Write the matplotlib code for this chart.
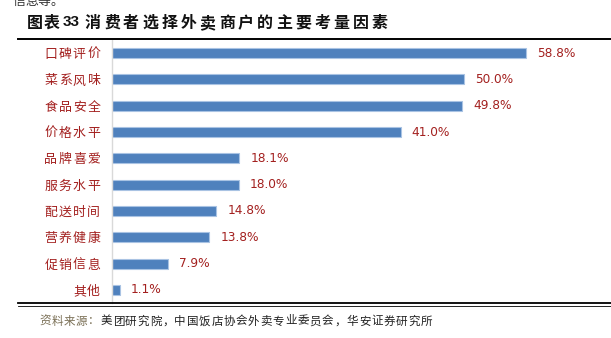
import matplotlib
matplotlib.use("Agg")
import matplotlib.pyplot as plt
from matplotlib.lines import Line2D

plt.rcParams['font.family'] = ['Noto Sans CJK SC', 'DejaVu Sans']

categories = ['口碑评价', '菜系风味', '食品安全', '价格水平', '品牌喜爱',
              '服务水平', '配送时间', '营养健康', '促销信息', '其他']
values = [58.8, 50.0, 49.8, 41.0, 18.1, 18.0, 14.8, 13.8, 7.9, 1.1]
value_labels = ['58.8%', '50.0%', '49.8%', '41.0%', '18.1%',
                '18.0%', '14.8%', '13.8%', '7.9%', '1.1%']

title_prefix = '图表'
title_number = '33'
title_text = '消费者选择外卖商户的主要考量因素'
source_lead = '资料来源：'
source_text = '美团研究院，中国饭店协会外卖专业委员会，华安证券研究所'
lead_in = '信息等。'

W, H = 611, 338
fig = plt.figure(figsize=(W / 100, H / 100), dpi=100)
fig.patch.set_facecolor('white')


def fx(px):
    return px / W


def fy(py):
    return 1 - py / H


def spaced_text(x0, y, s, pitch, **kw):
    """Draw a string one glyph at a time with a fixed pitch (in pixels)."""
    for i, ch in enumerate(s):
        fig.text(fx(x0 + i * pitch), fy(y), ch, va='center', ha='left', **kw)


bar_color = '#4F81BD'
text_red = '#A3201F'

ax = fig.add_axes([fx(112), fy(303), fx(611) - fx(112), fy(40) - fy(303)])
ypos = list(range(len(categories)))
ax.barh(ypos, values, height=0.38, color=bar_color,
        edgecolor='#A9C3E3', linewidth=0.8)
ax.set_ylim(len(categories) - 0.5, -0.5)
ax.set_xlim(0, 70.9)
ax.set_yticks(ypos)
ax.set_yticklabels([])
ax.tick_params(axis='y', length=0)
ax.set_xticks([])
for s in ['top', 'right', 'bottom']:
    ax.spines[s].set_visible(False)
ax.spines['left'].set_color('#D9D9D9')
ax.spines['left'].set_linewidth(1.0)

# category names, right-aligned with a slightly open glyph pitch
pitch = 14.3
for y, name in zip(ypos, categories):
    yc = ax.transData.transform((0, y))[1]
    ypx = H - yc + 1.5
    x0 = 100 - pitch * len(name) + 1.5
    spaced_text(x0, ypx, name, pitch, fontsize=9.3, color=text_red)

for y, v, lab in zip(ypos, values, value_labels):
    ax.text(v + 1.6, y, lab, va='center', ha='left', fontsize=8.7,
            color=text_red, family=['DejaVu Sans'])

# partially visible line of preceding text
spaced_text(13, 2, lead_in, 12.5, fontsize=9.3, color='#333333')

# heading
spaced_text(27, 23, title_prefix, 16.5, fontsize=11.5, fontweight='bold',
            color='#111111')
fig.text(fx(63), fy(22.5), title_number, fontsize=11, fontweight='bold',
         color='#111111', va='center', ha='left', family=['Liberation Sans'])
spaced_text(85, 23, title_text, 19.1, fontsize=11.5, fontweight='bold',
            color='#111111')
fig.add_artist(Line2D([fx(18), 1.0], [fy(38.5), fy(38.5)], color='black',
                      linewidth=1.4))

# bottom double rule
fig.add_artist(Line2D([fx(18), 1.0], [fy(303), fy(303)], color='black',
                      linewidth=1.3))
fig.add_artist(Line2D([fx(18), 1.0], [fy(305.5), fy(305.5)], color='black',
                      linewidth=0.6))

# source line
src_pitch = 12.3
spaced_text(39, 321, source_lead, src_pitch, fontsize=8.3, color='#7A6F55')
spaced_text(39 + src_pitch * len(source_lead), 321, source_text, src_pitch,
            fontsize=8.3, color='#222222')

fig.savefig('out.png', dpi=100, facecolor='white')
